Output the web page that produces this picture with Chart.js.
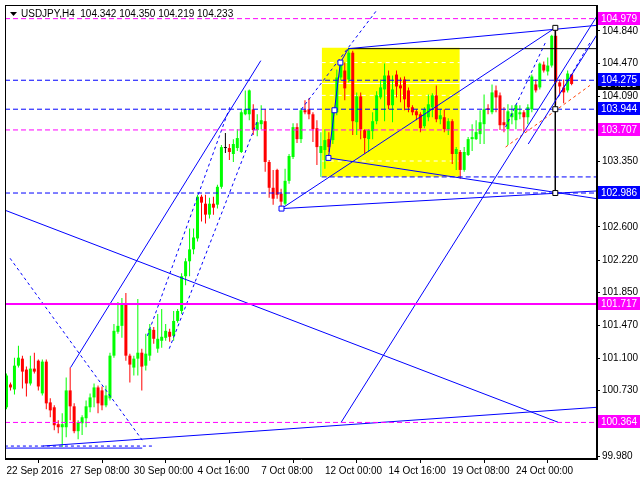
<!DOCTYPE html>
<html>
<head>
<meta charset="utf-8">
<script src="https://cdn.jsdelivr.net/npm/chart.js@4.4.1/dist/chart.umd.min.js"></script>
<style>
  html, body { margin: 0; padding: 0; background: #fff; }
  #c { display: block; }
</style>
</head>
<body>
<canvas id="c" width="640" height="480"></canvas>
<script>
// H4 candles, index = bar number from 22 Sep 2016
let opens = [100.537,100.798,100.741,101.013,101.093,100.968,100.809,100.979,101.070,100.696,101.059,100.593,100.537,100.344,100.309,100.309,100.730,100.548,100.264,100.355,100.412,100.537,100.650,100.764,100.730,100.559,100.639,101.127,101.400,101.468,101.729,101.127,100.991,101.093,101.161,101.013,101.127,101.422,101.207,101.297,101.331,101.400,101.354,101.524,101.638,102.035,102.206,102.342,102.467,102.944,102.864,102.739,102.864,102.853,103.057,103.500,103.500,103.432,103.500,103.455,103.886,103.886,103.943,103.705,103.773,103.807,103.341,103.046,103.250,102.978,102.864,103.125,103.398,103.739,103.602,103.932,103.943,103.886,103.727,103.443,103.477,103.602,103.591,103.909,104.306,104.386,104.284,104.590,103.795,104.091,103.705,103.602,103.693,103.807,104.079,104.170,104.329,103.989,104.340,104.216,104.284,104.159,103.966,103.920,103.886,103.750,103.852,103.966,104.102,103.829,103.852,103.716,103.807,103.432,103.455,103.250,103.421,103.602,103.602,103.659,103.773,103.955,103.909,104.159,104.102,103.795,103.716,103.852,103.818,103.886,103.909,103.852,103.943,104.227,104.193,104.454,104.375,104.443,104.783,104.250,104.193,104.159,104.342];
let highs = [100.923,100.820,101.104,101.241,101.127,101.002,101.127,101.161,101.082,101.082,101.082,100.639,100.559,100.389,100.468,100.877,100.991,100.582,100.389,100.446,100.616,100.696,100.809,100.786,100.775,100.786,101.161,101.490,101.740,101.786,101.842,101.150,101.127,101.774,101.207,101.377,101.490,101.456,101.604,101.661,101.490,101.434,101.638,101.661,102.069,102.240,102.580,102.580,102.966,102.966,102.966,102.932,102.944,103.080,103.534,103.671,103.546,103.602,103.716,103.932,104.159,104.170,104.000,103.886,103.989,103.943,103.364,103.250,103.262,103.035,103.262,103.432,103.784,103.784,103.955,104.045,104.068,103.909,103.818,103.682,103.716,103.682,103.955,104.397,104.499,104.477,104.647,104.613,104.136,104.136,103.716,103.716,103.909,104.148,104.284,104.465,104.386,104.329,104.386,104.306,104.318,104.193,103.989,103.943,103.909,103.966,104.113,104.125,104.216,103.943,103.943,103.841,103.829,103.511,103.477,103.511,103.625,103.773,103.818,103.932,104.113,104.000,104.227,104.216,104.136,103.966,104.000,103.989,104.000,103.989,103.932,104.000,104.340,104.284,104.477,104.488,104.534,104.795,104.874,104.284,104.284,104.386,104.350];
let lows = [100.514,100.730,100.684,100.991,100.752,100.661,100.786,100.923,100.730,100.673,100.514,100.423,100.275,100.241,100.082,100.196,100.389,100.241,100.173,100.219,100.309,100.480,100.537,100.468,100.502,100.537,100.616,101.104,101.377,101.331,101.070,100.820,100.900,100.900,100.730,100.957,101.070,101.263,101.161,101.218,101.297,101.286,101.297,101.502,101.604,101.933,102.035,102.285,102.433,102.660,102.637,102.694,102.739,102.808,103.035,103.443,103.364,103.341,103.466,103.443,103.875,103.818,103.648,103.636,103.716,103.228,102.932,102.853,102.921,102.830,102.842,103.091,103.375,103.557,103.557,103.886,103.829,103.568,103.307,103.171,103.262,103.455,103.546,103.875,104.272,104.045,104.250,103.648,103.648,103.602,103.432,103.455,103.602,103.773,104.057,103.807,103.943,103.795,104.079,104.023,103.932,103.909,103.875,103.818,103.682,103.727,103.807,103.852,103.795,103.773,103.682,103.648,103.318,103.250,103.148,103.228,103.409,103.466,103.591,103.546,103.546,103.886,103.886,103.909,103.705,103.682,103.534,103.773,103.716,103.829,103.682,103.773,103.909,104.136,104.170,104.363,104.329,104.420,103.989,104.113,104.011,104.136,104.219];
let closes = [100.900,100.764,101.013,101.104,100.945,100.809,100.979,100.945,100.775,101.059,100.582,100.502,100.332,100.309,100.344,100.730,100.548,100.264,100.366,100.423,100.548,100.650,100.764,100.582,100.559,100.673,101.127,101.411,101.468,101.729,101.127,101.025,101.093,101.161,101.002,101.150,101.434,101.320,101.320,101.343,101.411,101.343,101.524,101.638,102.035,102.206,102.342,102.478,102.944,102.876,102.739,102.864,102.819,103.057,103.511,103.500,103.455,103.546,103.614,103.909,103.943,104.159,103.705,103.795,103.818,103.341,103.046,102.921,102.966,102.887,103.125,103.409,103.739,103.602,103.932,103.909,103.886,103.716,103.511,103.523,103.591,103.511,103.909,104.306,104.454,104.182,104.590,103.807,104.091,103.716,103.614,103.705,103.807,104.102,104.193,104.329,103.989,104.170,104.204,104.182,104.057,103.966,103.909,103.875,103.727,103.943,104.000,104.102,103.829,103.875,103.716,103.807,103.432,103.489,103.250,103.455,103.602,103.625,103.682,103.795,103.943,103.937,104.136,104.079,103.761,103.761,103.920,103.898,103.989,103.909,103.852,103.966,104.318,104.159,104.465,104.386,104.443,104.783,104.250,104.204,104.136,104.352,104.233];

let xTickBars = [0, 16, 32, 48, 64, 80, 96, 112, 128];
let xLabels = ["22 Sep 2016", "27 Sep 08:00", "30 Sep 00:00", "4 Oct 16:00", "7 Oct 08:00", "12 Oct 00:00", "14 Oct 16:00", "19 Oct 08:00", "24 Oct 00:00"];
let yTicks = [104.840, 104.470, 104.090, 103.350, 102.600, 102.220, 101.850, 101.470, 101.100, 100.730, 99.980];

// horizontal levels
let blueLevels = [104.275, 103.944, 102.986];
let blueLevelsRight = [103.170];
let magentaLevels = [104.979, 103.707, 100.364];
let supportLevel = 101.717;
let bidPrice = 104.233;

// yellow box (bars, prices) and levels inside it
let boxBars = [79.2, 113.9];
let boxPrices = [104.647, 103.171];
let boxLevels = [104.477, 104.102, 103.352];
let boxMidLevel = 104.238;

// trend lines: [bar, price, bar, price]
let blueSolid = [
  [-0.4, 102.790, 138.6, 100.366],
  [84.1, 100.366, 148.4, 105.010],
  [69.1, 102.808, 137.9, 104.874],
  [69.1, 102.808, 148.4, 103.010],
  [80.9, 103.387, 148.4, 102.921],
  [85.9, 104.636, 148.4, 104.903],
  [16.1, 100.991, 63.9, 104.499],
  [9.1, 100.094, 148.4, 100.537],
  [-0.4, 100.071, 34.1, 100.071],
  [131.1, 103.546, 148.4, 104.799]
];
let blueDashed = [
  [0.9, 102.240, 34.1, 100.162],
  [-0.4, 100.094, 36.6, 100.094],
  [35.4, 101.354, 56.1, 103.966],
  [40.9, 101.207, 62.9, 103.795],
  [74.1, 103.943, 92.9, 105.067],
  [125.4, 103.739, 135.4, 104.704],
  [138.6, 104.079, 146.6, 104.704]
];
let orangeDashed = [
  [125.4, 103.511, 146.6, 104.216]
];
let blackLines = [
  [85.9, 104.636, 148.4, 104.636],
  [137.9, 104.874, 137.9, 102.986]
];
let waveBars = [80.9, 82.4, 83.9, 85.9];
let wavePrices = [103.387, 103.932, 104.477, 104.636];
let blueMarkBars = [69.1, 80.9, 82.4, 83.9];
let blueMarkPrices = [102.808, 103.387, 103.932, 104.477];
let blackMarkBars = [137.9, 137.9, 137.9];
let blackMarkPrices = [104.874, 103.944, 102.986];

const FONT = "'Liberation Sans', Arial, sans-serif";
const FSIZE = 10;
const X_MIN = -0.375, X_MAX = 148.375;

let candleColors = opens.map((o, i) => closes[i] > o ? "#00ff00" : (closes[i] < o ? "#ff0000" : "#000000"));

function seg(s, color, dash, width, order) {
  return {
    type: "line",
    data: [{ x: s[0], y: s[1] }, { x: s[2], y: s[3] }],
    borderColor: color, borderWidth: width || 1, borderDash: dash || [],
    pointRadius: 0, fill: false, tension: 0, order: order || 1
  };
}
function level(p, color, dash, width, from, to, order) {
  return seg([from === undefined ? X_MIN : from, p, to === undefined ? X_MAX : to, p], color, dash, width, order);
}

let datasets = [];

// yellow box
datasets.push({
  type: "line",
  data: [{ x: boxBars[0], y: boxPrices[0] }, { x: boxBars[1], y: boxPrices[0] }],
  borderWidth: 0, pointRadius: 0, backgroundColor: "#ffff00",
  fill: { value: boxPrices[1] }, order: 20
});
boxLevels.forEach(p => datasets.push(level(p, "#ffffff", [4, 4], 1, boxBars[0], boxBars[1], 15)));
datasets.push(level(boxMidLevel, "#ffffff", [], 1, boxBars[0], boxBars[1], 15));

// candles
datasets.push({
  type: "bar",
  data: lows.map((l, i) => ({ x: i, y: [l, highs[i]] })),
  backgroundColor: candleColors, barThickness: 1, grouped: false, inflateAmount: 0, order: 6
});
datasets.push({
  type: "bar",
  data: opens.map((o, i) => ({ x: i, y: [o, closes[i]] })),
  backgroundColor: candleColors, barThickness: 3, grouped: false, minBarLength: 1, inflateAmount: 0, order: 5
});

// levels
blueLevels.forEach(p => datasets.push(level(p, "#0000ff", [5, 3])));
blueLevelsRight.forEach(p => datasets.push(level(p, "#0000ff", [5, 3], 1, 79.2)));
magentaLevels.forEach(p => datasets.push(level(p, "#ff00ff", [5, 3])));
datasets.push(level(supportLevel, "#ff00ff", [], 2));

// trend lines
blueSolid.forEach(s => datasets.push(seg(s, "#0000ff")));
blueDashed.forEach(s => datasets.push(seg(s, "#0000ff", [3, 3])));
orangeDashed.forEach(s => datasets.push(seg(s, "#ff4000", [3, 3])));
blackLines.forEach(s => datasets.push(seg(s, "#000000")));
datasets.push({
  type: "line",
  data: waveBars.map((b, i) => ({ x: b, y: wavePrices[i] })),
  borderColor: "#0000ff", borderWidth: 1, pointRadius: 0, fill: false, tension: 0, order: 1
});

// marker squares
datasets.push({
  type: "scatter",
  data: blueMarkBars.map((b, i) => ({ x: b, y: blueMarkPrices[i] })),
  pointStyle: "rect", pointRadius: 3.5, borderColor: "#0000ff", backgroundColor: "#ffffff",
  borderWidth: 1, showLine: false, order: 0
});
datasets.push({
  type: "scatter",
  data: blackMarkBars.map((b, i) => ({ x: b, y: blackMarkPrices[i] })),
  pointStyle: "rect", pointRadius: 3.5, borderColor: "#000000", backgroundColor: "#ffffff",
  borderWidth: 1, showLine: false, order: 0
});

// frame, price tags and header
const overlay = {
  id: "overlay",
  afterDraw(chart) {
    const { ctx, chartArea: a, scales: { y } } = chart;
    ctx.save();
    ctx.strokeStyle = "#000";
    ctx.lineWidth = 1;
    ctx.strokeRect(a.left + 0.5, a.top + 0.5, a.right - a.left - 1, a.bottom - a.top - 1);

    ctx.font = FSIZE + "px " + FONT;
    ctx.textBaseline = "middle";
    function tag(p, bg) {
      let py = Math.round(y.getPixelForValue(p));
      ctx.fillStyle = bg;
      ctx.fillRect(a.right + 1, py - 7, chart.width - a.right - 1, 13);
      ctx.fillStyle = "#ffffff";
      ctx.fillText(p.toFixed(3), a.right + 4, py);
    }
    tag(bidPrice, "#000000");
    blueLevels.forEach(p => tag(p, "#0000ff"));
    magentaLevels.forEach(p => tag(p, "#ff00ff"));
    tag(supportLevel, "#ff00ff");

    // header
    ctx.fillStyle = "#000";
    ctx.beginPath();
    ctx.moveTo(a.left + 5, a.top + 7);
    ctx.lineTo(a.left + 12, a.top + 7);
    ctx.lineTo(a.left + 8.5, a.top + 11);
    ctx.closePath();
    ctx.fill();
    ctx.fillText("USDJPY,H4  " + [opens[142], highs[142], lows[142], closes[142]].map(v => v.toFixed(3)).join(" "), a.left + 16, a.top + 9);
    ctx.restore();
  }
};

new Chart(document.getElementById("c"), {
  type: "bar",
  data: { datasets: datasets },
  plugins: [overlay],
  options: {
    responsive: false,
    animation: false,
    devicePixelRatio: 1,
    layout: { padding: { left: 2, top: 2, right: 0, bottom: 0 } },
    plugins: { legend: { display: false }, tooltip: { enabled: false } },
    scales: {
      x: {
        type: "linear", min: X_MIN, max: X_MAX, offset: false, position: "bottom",
        afterFit(s) { s.height = 21; s.paddingLeft = 0; s.paddingRight = 0; },
        afterBuildTicks(s) { s.ticks = xTickBars.map(v => ({ value: v })); },
        ticks: {
          autoSkip: false, maxRotation: 0, align: "start", padding: 2, color: "#000",
          font: { family: FONT, size: FSIZE },
          callback: v => xLabels[xTickBars.indexOf(v)]
        },
        grid: { drawOnChartArea: false, drawTicks: true, tickLength: 4, color: "#000" },
        border: { display: true, color: "#000" }
      },
      y: {
        type: "linear", position: "right", min: 99.946, max: 105.135,
        afterFit(s) { s.width = 43; s.paddingTop = 0; s.paddingBottom = 0; },
        afterBuildTicks(s) { s.ticks = yTicks.map(v => ({ value: v })); },
        ticks: {
          autoSkip: false, padding: 2, color: "#000",
          font: { family: FONT, size: FSIZE },
          callback: v => v.toFixed(3)
        },
        grid: { drawOnChartArea: false, drawTicks: true, tickLength: 3, color: "#000" },
        border: { display: true, color: "#000" }
      }
    }
  }
});
</script>
</body>
</html>
